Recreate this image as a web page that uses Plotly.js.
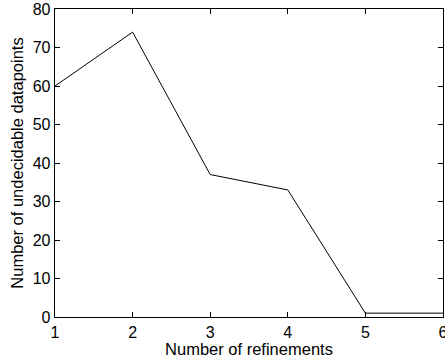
<!DOCTYPE html>
<html>
<head>
<script src="https://cdn.plot.ly/plotly-3.0.1.min.js"></script>
<style>html,body{margin:0;padding:0;background:#fff;overflow:hidden;}#chart{width:445px;height:363px;}</style>
</head>
<body>
<div id="chart"></div>
<script>
const refinements = [1, 2, 3, 4, 5, 6];
const undecidable = [60, 74, 37, 33, 1, 1];
const xTicks = [1, 2, 3, 4, 5, 6];
const yTicks = [0, 10, 20, 30, 40, 50, 60, 70, 80];

const FONT = 'Liberation Sans, Arial, Helvetica, sans-serif';
const axisCommon = {
  showline: true, linecolor: '#000', linewidth: 1.3, mirror: 'ticks',
  ticks: 'inside', ticklen: 5, tickcolor: '#000', tickwidth: 1,
  showgrid: false, zeroline: false, ticklabeloverflow: 'allow',
  tickfont: {family: FONT, size: 16, color: '#000'}
};

Plotly.newPlot('chart', [{
  x: refinements, y: undecidable, type: 'scatter', mode: 'lines',
  line: {color: '#000', width: 1}, cliponaxis: false
}], {
  width: 445, height: 363,
  margin: {l: 55, r: 2, t: 9, b: 46},
  paper_bgcolor: '#fff', plot_bgcolor: '#fff',
  showlegend: false,
  xaxis: Object.assign({}, axisCommon, {
    range: [1, 6], tickvals: xTicks, ticktext: xTicks.map(String),
    title: {text: 'Number of refinements', font: {family: FONT, size: 16.5, color: '#000'}, standoff: 0}
  }),
  yaxis: Object.assign({}, axisCommon, {
    range: [0, 80], tickvals: yTicks, ticktext: yTicks.map(String),
    title: {text: 'Number of undecidable datapoints', font: {family: FONT, size: 16.5, color: '#000'}, standoff: 5}
  })
}, {staticPlot: true});
</script>
</body>
</html>
